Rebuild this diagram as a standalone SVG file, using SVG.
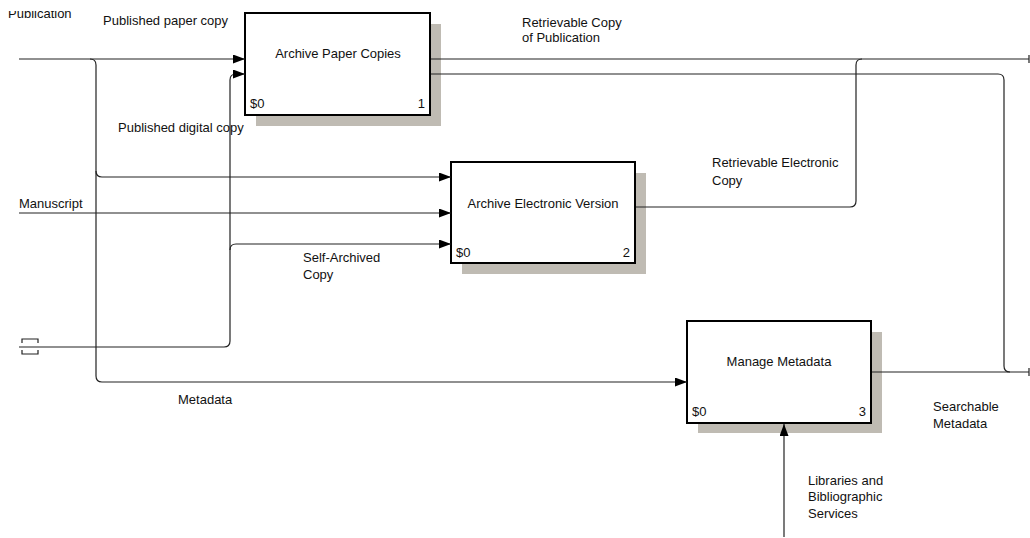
<svg xmlns="http://www.w3.org/2000/svg" width="1030" height="538" viewBox="0 0 1030 538">
<style>
text{font-family:"Liberation Sans",Arial,sans-serif;font-size:13px;fill:#111}
.box{fill:#fff;stroke:#000;stroke-width:2}
.shadow{fill:#bfbbb3}
.c{fill:none;stroke:#222;stroke-width:1.2}
.end{text-anchor:end}
.mid{text-anchor:middle}
</style>
<defs>
<marker id="arr" markerWidth="13" markerHeight="10" refX="12" refY="4.5" orient="auto" markerUnits="userSpaceOnUse">
<path d="M0,0 L12,4.5 L0,9 z" fill="#000"/>
</marker>
<clipPath id="topclip"><rect x="0" y="11" width="200" height="20"/></clipPath>
</defs>
<g id="node1">
<rect class="shadow" x="256" y="24" width="185" height="102"/>
<rect class="box" x="245" y="13" width="185" height="102"/>
<text class="mid" x="338" y="58">Archive Paper Copies</text>
<text x="250" y="108">$0</text>
<text class="end" x="425" y="108">1</text>
</g>
<g id="node2">
<rect class="shadow" x="462" y="173" width="184" height="101"/>
<rect class="box" x="451" y="162" width="184" height="101"/>
<text class="mid" x="543" y="208">Archive Electronic Version</text>
<text x="456" y="257">$0</text>
<text class="end" x="630" y="257">2</text>
</g>
<g id="node3">
<rect class="shadow" x="698" y="332" width="184" height="101"/>
<rect class="box" x="687" y="321" width="184" height="102"/>
<text class="mid" x="779" y="366">Manage Metadata</text>
<text x="692" y="416">$0</text>
<text class="end" x="866" y="416">3</text>
</g>
<g id="connectors">
<path class="c" d="M19,59 H245" marker-end="url(#arr)"/>
<path class="c" d="M90,59 Q96,59 96,65 V376 Q96,382 102,382 H687" marker-end="url(#arr)"/>
<path class="c" d="M96,171 Q96,177 102,177 H451" marker-end="url(#arr)"/>
<path class="c" d="M19,213 H451" marker-end="url(#arr)"/>
<path class="c" d="M19,347 H224 Q230,347 230,341 V80 Q230,74 236,74 H245" marker-end="url(#arr)"/>
<path class="c" d="M230,250 Q230,244 236,244 H451" marker-end="url(#arr)"/>
<path class="c" d="M431,59 H1029 M1029,55 V63"/>
<path class="c" d="M636,207 H850 Q856,207 856,201 V65 Q856,59 862,59"/>
<path class="c" d="M431,74 H998 Q1004,74 1004,80 V366 Q1004,372 1010,372"/>
<path class="c" d="M872,372 H1029 M1029,368 V376"/>
<path class="c" d="M784,537 V424" marker-end="url(#arr)"/>
<path class="c" d="M22,343 V339 H38 V343 M22,350 V354 H38 V350" stroke-width="1.5"/>
</g>
<g id="labels">
<text x="8" y="18" clip-path="url(#topclip)">Publication</text>
<text x="103" y="25">Published paper copy</text>
<text x="118" y="132">Published digital copy</text>
<text x="522" y="27">Retrievable Copy</text>
<text x="522" y="42">of Publication</text>
<text x="712" y="167">Retrievable Electronic</text>
<text x="712" y="185">Copy</text>
<text x="19" y="208">Manuscript</text>
<text x="303" y="262">Self-Archived</text>
<text x="303" y="279">Copy</text>
<text x="178" y="404">Metadata</text>
<text x="933" y="411">Searchable</text>
<text x="933" y="428">Metadata</text>
<text x="808" y="485">Libraries and</text>
<text x="808" y="501">Bibliographic</text>
<text x="808" y="518">Services</text>
</g>
</svg>
